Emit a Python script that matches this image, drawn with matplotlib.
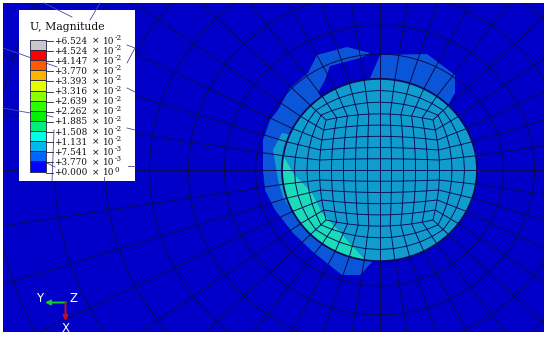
import numpy as np
from matplotlib import pyplot as plt
from matplotlib.patches import Ellipse, Polygon, Rectangle

labels = ['+6.524', '+4.524', '+4.147', '+3.770', '+3.393', '+3.316', '+2.639',
          '+2.262', '+1.885', '+1.508', '+1.131', '+7.541', '+3.770', '+0.000']
exponents = ['-2', '-2', '-2', '-2', '-2', '-2', '-2', '-2', '-2', '-2', '-2', '-3', '-3', '0']
bar_colors = ['#c8c8c8', '#ff0000', '#ff5a00', '#ffb400', '#e6ff00', '#8cff00', '#2cff00',
              '#00f000', '#00ee80', '#00ffe6', '#00b8f0', '#0064ff', '#0000ff']

# contour regions, in image pixels
blob_left = [(317, 55), (347, 47), (370, 53), (360, 58), (330, 66), (325, 80), (318, 93), (380, 170),
             (372, 262), (360, 275), (342, 275), (313, 252), (293, 233), (275, 210), (265, 190),
             (263, 170), (263, 140), (270, 120), (278, 110), (290, 88), (308, 73)]
blob_right = [(380, 55), (427, 54), (455, 75), (455, 93), (448, 105), (380, 170), (370, 78)]
blob_mid = [(282, 133), (287, 134), (380, 170), (365, 260), (330, 250), (310, 233), (293, 213),
            (283, 197), (278, 180), (273, 150)]
blob_teal = [(283, 155), (293, 173), (312, 193), (322, 213), (338, 230), (365, 260), (340, 270),
             (290, 240), (270, 190)]

# mesh seen faintly through the legend box
legend_scraps = [[(44, 3), (72, 17)], [(100, 3), (90, 20)], [(3, 48), (57, 67)], [(127, 45), (135, 48)],
                 [(135, 48), (127, 63)], [(127, 88), (135, 92)], [(127, 128), (135, 130)],
                 [(128, 166), (135, 166)], [(3, 108), (30, 113)], [(45, 115), (53, 117)],
                 [(54, 130), (52, 181)], [(47, 163), (55, 167)], [(104, 177), (104, 181)]]

# rings of the outer mesh, horizontal half width in pixels
ring_radii = [97.5, 124, 155, 191, 230, 274, 325, 385, 450]
cx, cy = 379.5, 170
squash = 0.935
line_col = '#0a0a55'

fig = plt.figure(figsize=(5.5, 3.39), dpi=100)
ax = fig.add_axes([0, 0, 1, 1])
ax.set_xlim(0, 550)
ax.set_ylim(339, 0)
ax.axis('off')

ax.add_patch(Rectangle((3, 3), 541, 329, fc='#0000c8', ec='none', zorder=1))
ax.add_patch(Polygon(blob_left, fc='#0a55d8', ec='none', zorder=2))
ax.add_patch(Polygon(blob_right, fc='#0a55d8', ec='none', zorder=2))
ax.add_patch(Polygon(blob_mid, fc='#109ccc', ec='none', zorder=2))
disc = Ellipse((cx, cy), 2 * ring_radii[0], 2 * ring_radii[0] * squash, fc='#109ccc', ec='none', zorder=3)
ax.add_patch(disc)
teal = Polygon(blob_teal, fc='#1adcb8', ec='none', zorder=3)
ax.add_patch(teal)
teal.set_clip_path(disc)

frame = Rectangle((3, 3), 541, 329, transform=ax.transData)


def line(xs, ys, lw=0.7):
    ln, = ax.plot(xs, ys, color=line_col, lw=lw, zorder=4, solid_capstyle='butt')
    ln.set_clip_path(frame)


# outer mesh
t = np.linspace(0, 2 * np.pi, 400)
for r in ring_radii[1:]:
    line(cx + r * np.cos(t), cy + r * squash * np.sin(t))
line(cx + ring_radii[0] * np.cos(t), cy + ring_radii[0] * squash * np.sin(t), lw=1.3)
for a in np.radians(np.arange(0, 360, 9)):
    line(cx + np.array([97.5, 520]) * np.cos(a), cy + np.array([97.5, 520]) * squash * np.sin(a))


# inner O-grid: a 10 x 10 block wrapped by three layers
def block(u, v):
    return 60 * u * (1 - 0.11 * v ** 2), 60 * v * (1 - 0.11 * u ** 2)


s = np.linspace(-1, 1, 40)
for k in np.linspace(-1, 1, 11):
    bx, by = block(k * np.ones_like(s), s)
    line(cx + bx, cy + by * squash, lw=0.65)
    bx, by = block(s, k * np.ones_like(s))
    line(cx + bx, cy + by * squash, lw=0.65)

edge = []
for i in range(10):
    edge.append((1.0, -1 + 0.2 * i))
for i in range(10):
    edge.append((1 - 0.2 * i, 1.0))
for i in range(10):
    edge.append((-1.0, 1 - 0.2 * i))
for i in range(10):
    edge.append((-1 + 0.2 * i, -1.0))
pts_in = np.array([block(u, v) for u, v in edge])
ang = np.radians(-45 + 9 * np.arange(40))
pts_out = np.column_stack([97.5 * np.cos(ang), 97.5 * np.sin(ang)])
for p, q in zip(pts_in, pts_out):
    line(cx + np.array([p[0], q[0]]), cy + np.array([p[1], q[1]]) * squash, lw=0.65)
for f in [1 / 3, 2 / 3]:
    ring = pts_in + (pts_out - pts_in) * f
    ring = np.vstack([ring, ring[0]])
    line(cx + ring[:, 0], cy + ring[:, 1] * squash, lw=0.65)

# legend
ax.add_patch(Rectangle((19, 10), 116, 171, fc='white', ec='none', zorder=5))
for seg in legend_scraps:
    ax.plot([seg[0][0], seg[1][0]], [seg[0][1], seg[1][1]], color='#4a4a9c', lw=0.6, zorder=6)
ax.text(30, 27, 'U, Magnitude', family='DejaVu Serif', fontsize=7.8, color='#111111',
        va='center', ha='left', zorder=7)

bar_top = 40.0
bar_h = 10.12
for i, c in enumerate(bar_colors):
    ax.add_patch(Rectangle((29.5, bar_top + i * bar_h), 16, bar_h, fc=c, ec='#222244', lw=0.6, zorder=7))
for i, lab in enumerate(labels):
    y = bar_top + i * bar_h + 1
    ax.plot([45.5, 53], [y, y], color='#222222', lw=0.6, zorder=7)
    ax.text(54, y, lab, family='DejaVu Serif', fontsize=6.4, color='#111111', va='center', zorder=7)
    ax.text(92, y, '\u00d7', family='DejaVu Sans', fontsize=6.5, color='#111111', va='center', zorder=7)
    ax.text(103, y, '10', family='DejaVu Serif', fontsize=6.4, color='#111111', va='center', zorder=7)
    ax.text(114.5, y - 3, exponents[i], family='DejaVu Serif', fontsize=5.2, color='#111111', va='center', zorder=7)

# triad
ax.annotate('', xy=(45, 302.5), xytext=(66, 302.5), zorder=8,
            arrowprops=dict(arrowstyle='-|>', color='#10d020', lw=1.4, mutation_scale=7, shrinkA=0, shrinkB=0))
ax.annotate('', xy=(65.5, 321), xytext=(65.5, 302.5), zorder=8,
            arrowprops=dict(arrowstyle='-|>', color='#c01020', lw=1.4, mutation_scale=7, shrinkA=0, shrinkB=0))
for txt, x, y in [('Y', 40, 299), ('Z', 74, 298.5), ('X', 65.5, 328)]:
    ax.text(x, y, txt, color='white', fontsize=8.5, ha='center', va='center', family='DejaVu Sans', zorder=8)

fig.savefig('out.png', dpi=100)
